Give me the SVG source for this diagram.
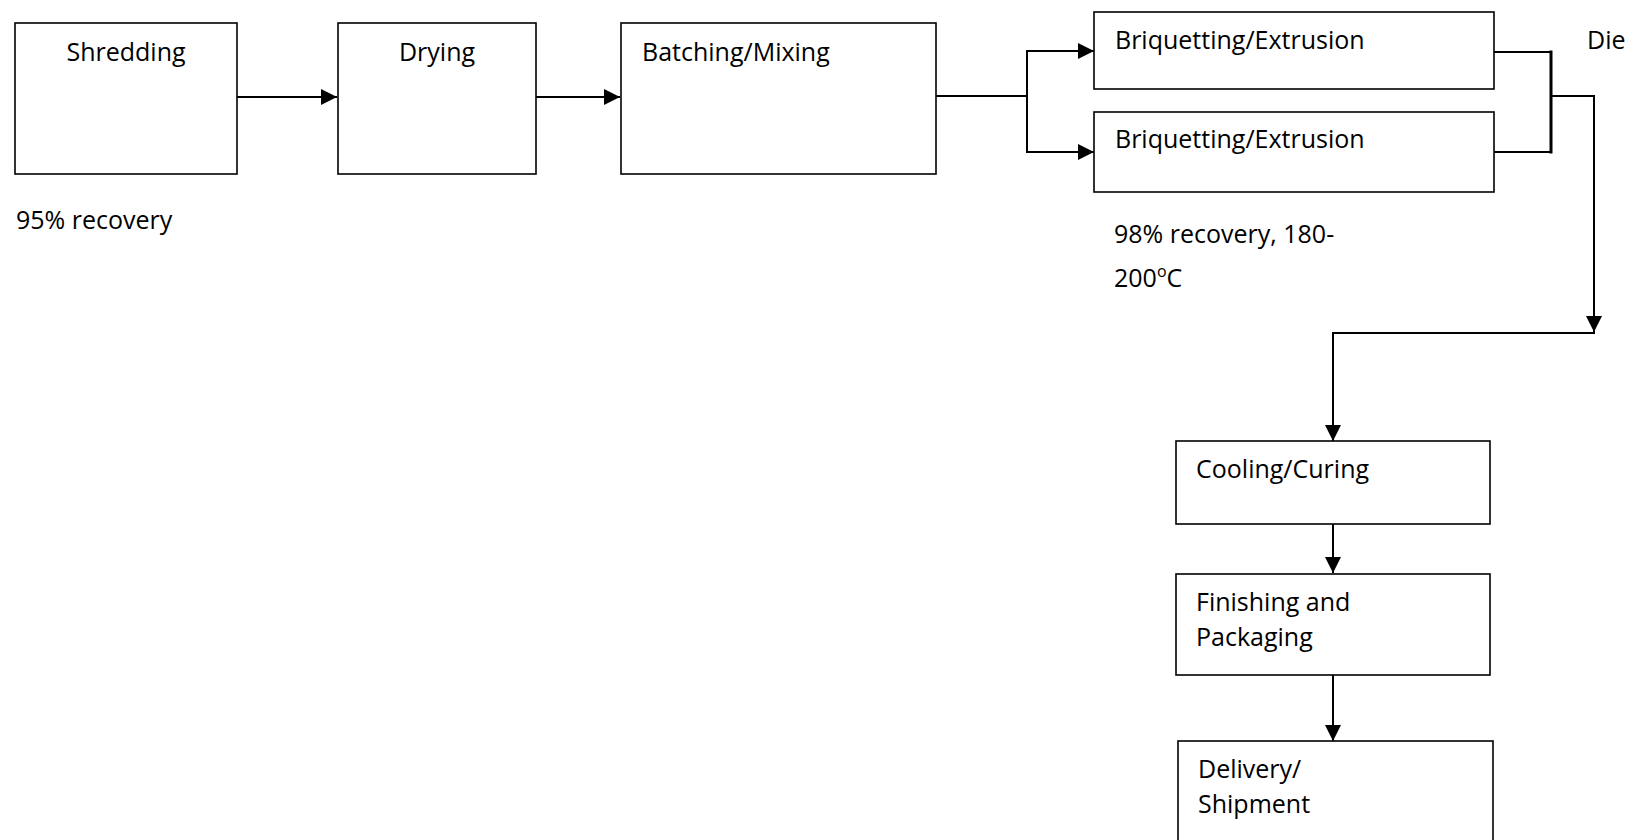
<svg xmlns="http://www.w3.org/2000/svg" width="1632" height="840" viewBox="0 0 1632 840">
<style>
  .box { fill: #ffffff; stroke: #000000; stroke-width: 1.6; }
  .lbl { font-family: "Open Sans", "Liberation Sans", sans-serif; font-size: 25px; fill: #000000; }
  .mid { text-anchor: middle; }
  .con { fill: none; stroke: #000000; stroke-width: 2; }
  .thick { stroke-width: 3; }
</style>
<defs>
  <marker id="arrow" markerUnits="userSpaceOnUse" markerWidth="16" markerHeight="16" viewBox="0 0 16 16" refX="16" refY="8" orient="auto">
    <path d="M0,0 L16,8 L0,16 Z" fill="#000000"/>
  </marker>
</defs>
<rect width="1632" height="840" fill="#ffffff"/>

<g id="connectors">
  <line class="con" x1="237" y1="97" x2="337" y2="97" marker-end="url(#arrow)"/>
  <line class="con" x1="536" y1="97" x2="620" y2="97" marker-end="url(#arrow)"/>
  <polyline class="con" points="936,96 1027,96"/>
  <polyline class="con" points="1027,51 1027,152"/>
  <line class="con" x1="1026" y1="51" x2="1094" y2="51" marker-end="url(#arrow)"/>
  <line class="con" x1="1026" y1="152" x2="1094" y2="152" marker-end="url(#arrow)"/>
  <polyline class="con" points="1494,52 1551,52"/>
  <polyline class="con" points="1494,152 1551,152"/>
  <polyline class="con thick" points="1551,50.5 1551,153.5"/>
  <polyline class="con" points="1551,96 1594,96 1594,332" marker-end="url(#arrow)"/>
  <polyline class="con" points="1595,333 1333,333 1333,441" marker-end="url(#arrow)"/>
  <line class="con" x1="1333" y1="524" x2="1333" y2="573" marker-end="url(#arrow)"/>
  <line class="con" x1="1333" y1="675" x2="1333" y2="741" marker-end="url(#arrow)"/>
</g>

<g id="shredding">
  <rect class="box" x="15" y="23" width="222" height="151"/>
  <text class="lbl mid" x="126" y="61">Shredding</text>
</g>
<g id="drying">
  <rect class="box" x="338" y="23" width="198" height="151"/>
  <text class="lbl mid" x="437" y="61">Drying</text>
</g>
<g id="batching">
  <rect class="box" x="621" y="23" width="315" height="151"/>
  <text class="lbl" x="642" y="61">Batching/Mixing</text>
</g>
<g id="briquetting1">
  <rect class="box" x="1094" y="12" width="400" height="77"/>
  <text class="lbl" x="1115" y="49">Briquetting/Extrusion</text>
</g>
<g id="briquetting2">
  <rect class="box" x="1094" y="112" width="400" height="80"/>
  <text class="lbl" x="1115" y="148">Briquetting/Extrusion</text>
</g>
<g id="die-label">
  <text class="lbl" x="1587" y="49">Die</text>
</g>
<g id="note-shredding">
  <text class="lbl" x="16" y="229">95% recovery</text>
</g>
<g id="note-briquetting">
  <text class="lbl" x="1114" y="243">98% recovery, 180-</text>
  <text class="lbl" x="1114" y="287">200<tspan font-size="16" dy="-10">o</tspan><tspan dy="10">C</tspan></text>
</g>
<g id="cooling">
  <rect class="box" x="1176" y="441" width="314" height="83"/>
  <text class="lbl" x="1196" y="478">Cooling/Curing</text>
</g>
<g id="finishing">
  <rect class="box" x="1176" y="574" width="314" height="101"/>
  <text class="lbl" x="1196" y="611">Finishing and</text>
  <text class="lbl" x="1196" y="646">Packaging</text>
</g>
<g id="delivery">
  <rect class="box" x="1178" y="741" width="315" height="110"/>
  <text class="lbl" x="1198" y="778">Delivery/</text>
  <text class="lbl" x="1198" y="813">Shipment</text>
</g>
</svg>
